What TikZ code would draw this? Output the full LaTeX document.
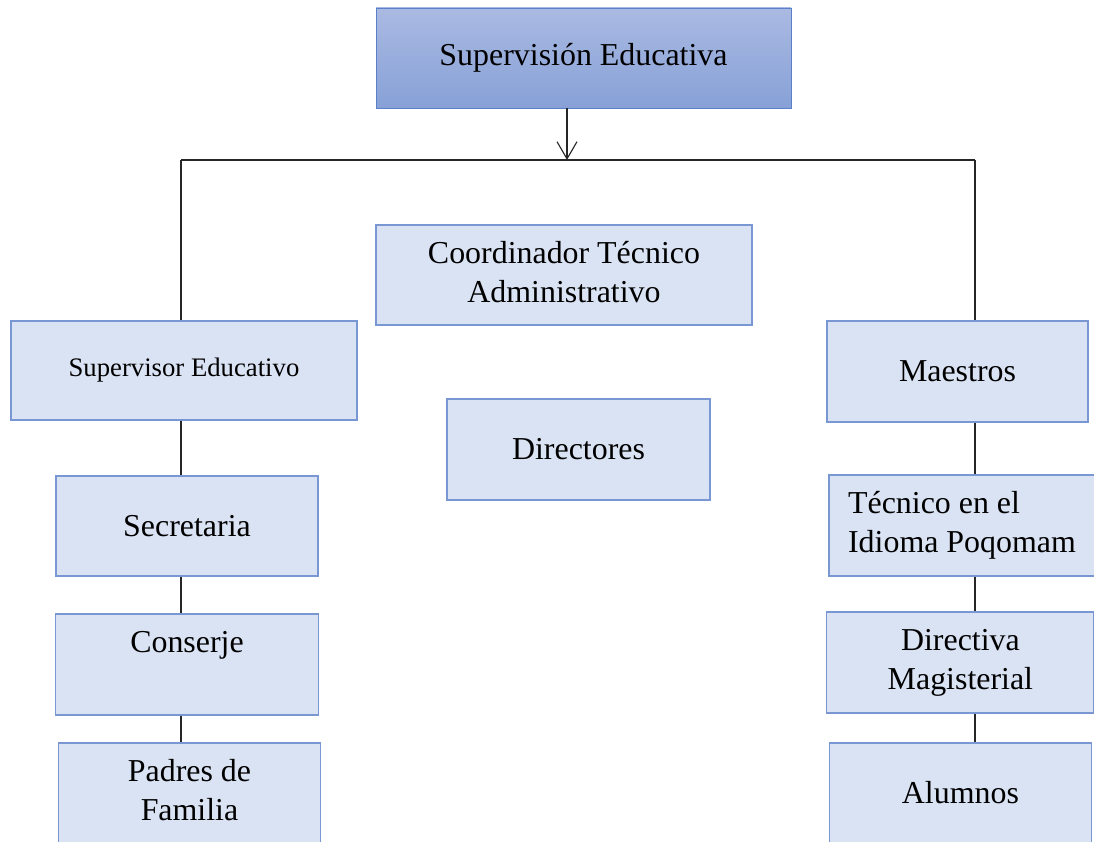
\documentclass[tikz,border=0pt]{standalone}
\usepackage{fontspec}
\setmainfont{Liberation Serif}
\usetikzlibrary{positioning,arrows.meta}
\definecolor{topTop}{HTML}{AABAE2}
\definecolor{topBottom}{HTML}{87A1D7}
\definecolor{topLine}{HTML}{5B7FC9}
\definecolor{unitFill}{HTML}{DAE3F3}
\definecolor{unitLine}{HTML}{7897D3}
\begin{document}
\begin{tikzpicture} [
      topunit/.style={draw=topLine, rectangle, top color=topTop, bottom color=topBottom, inner sep=0pt, font=\fontsize{22.7}{27.5}\selectfont},
      unit/.style={draw=unitLine, line width=0.8pt, rectangle, fill=unitFill, inner sep=0pt, minimum width=6.55cm, minimum height=2.5cm, font=\fontsize{22.7}{27.5}\selectfont},
      link/.style={draw=black!85, line width=0.8pt}
   ]
    \useasboundingbox (0, 0) rectangle (27.35, -21.05);
    \clip (0, 0) rectangle (27.35, -21.05);

    \node[topunit, minimum width=10.375cm, minimum height=2.5cm] (ndSupervision) at (14.5875, -1.45) {Supervisión Educativa};

    \coordinate (busL) at (4.525, -4.0);
    \coordinate (busM) at (14.175, -4.0);
    \coordinate (busR) at (24.375, -4.0);

    \node[unit, minimum width=9.4cm] (ndCoordinador) at (14.1, -6.875) {
      \begin{tabular}{c}
        Coordinador Técnico \\
        Administrativo
      \end{tabular}
    };
    \node[unit, minimum width=6.575cm, minimum height=2.525cm, below of=ndCoordinador, node distance=4.3625cm, xshift=0.3625cm] (ndDirectores) {Directores};

    % left column
    \node[unit, minimum width=8.65cm, minimum height=2.475cm, font=\fontsize{19}{24}\selectfont] (ndSupervisor) at (4.6, -9.2625) {Supervisor Educativo};
    \node[unit, below of=ndSupervisor, node distance=3.8875cm, xshift=0.075cm] (ndSecretaria) {Secretaria};
    \node[unit, minimum width=6.575cm, minimum height=2.525cm, below of=ndSecretaria, node distance=3.4625cm] (ndConserje) {
      \begin{tabular}{c}
        Conserje \\
        ~
      \end{tabular}
    };
    \node[unit, below of=ndConserje, node distance=3.2125cm, xshift=0.0625cm] (ndPadres) {
      \begin{tabular}{c}
        Padres de \\
        Familia
      \end{tabular}
    };

    % right column
    \node[unit, minimum width=6.525cm, minimum height=2.525cm] (ndMaestros) at (23.9375, -9.2875) {Maestros};
    \node[unit, minimum width=6.65cm, minimum height=2.525cm, below of=ndMaestros, node distance=3.85cm, xshift=0.1125cm] (ndTecnico) {
      \begin{tabular}{l}
        Técnico en el \\
        Idioma Poqomam
      \end{tabular}
    };
    \node[unit, minimum width=6.675cm, minimum height=2.525cm, below of=ndTecnico, node distance=3.425cm, xshift=-0.04cm] (ndDirectiva) {
      \begin{tabular}{c}
        Directiva \\
        Magisterial
      \end{tabular}
    };
    \node[unit, below of=ndDirectiva, node distance=3.2625cm] (ndAlumnos) {Alumnos};

    % connectors
    \draw[link, -{Straight Barb[length=4.3mm, width=5mm]}] (ndSupervision.south -| busM) -- (busM);
    \draw[link] (busL) -- (busR);
    \draw[link] (busL) -- (ndSupervisor.north -| busL);
    \draw[link] (busR) -- (ndMaestros.north -| busR);
    \draw[link] (ndSupervisor.south -| busL) -- (ndSecretaria.north -| busL);
    \draw[link] (ndSecretaria.south -| busL) -- (ndConserje.north -| busL);
    \draw[link] (ndConserje.south -| busL) -- (ndPadres.north -| busL);
    \draw[link] (ndMaestros.south -| busR) -- (ndTecnico.north -| busR);
    \draw[link] (ndTecnico.south -| busR) -- (ndDirectiva.north -| busR);
    \draw[link] (ndDirectiva.south -| busR) -- (ndAlumnos.north -| busR);

  \end{tikzpicture}
\end{document}
